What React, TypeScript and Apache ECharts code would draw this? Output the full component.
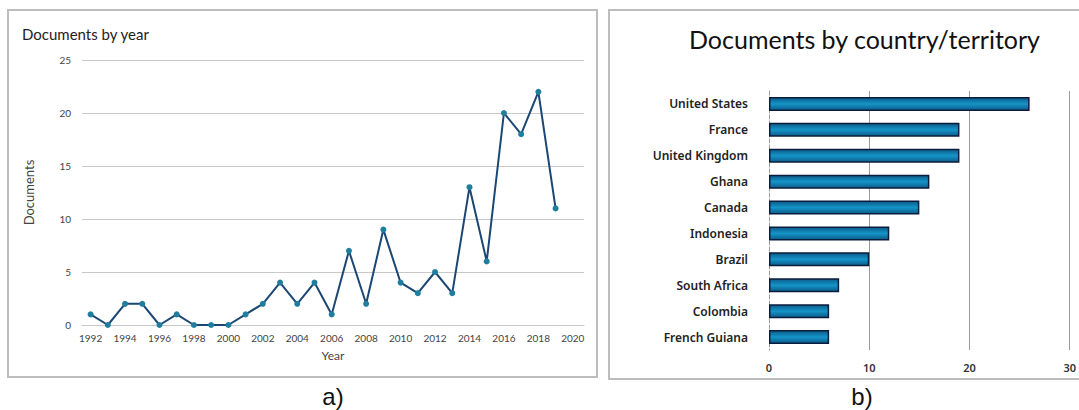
import React, { useEffect, useRef } from "react";
import * as echarts from "echarts";

const years = [1992, 1993, 1994, 1995, 1996, 1997, 1998, 1999, 2000, 2001, 2002, 2003, 2004, 2005, 2006, 2007, 2008, 2009, 2010, 2011, 2012, 2013, 2014, 2015, 2016, 2017, 2018, 2019];
const docsByYear = [1, 0, 2, 2, 0, 1, 0, 0, 0, 1, 2, 4, 2, 4, 1, 7, 2, 9, 4, 3, 5, 3, 13, 6, 20, 18, 22, 11];
const yearTicks = [1992, 1994, 1996, 1998, 2000, 2002, 2004, 2006, 2008, 2010, 2012, 2014, 2016, 2018, 2020];

const countries = ["United States", "France", "United Kingdom", "Ghana", "Canada", "Indonesia", "Brazil", "South Africa", "Colombia", "French Guiana"];
const countryDocs = [26, 19, 19, 16, 15, 12, 10, 7, 6, 6];

export default function App() {
  const ref = useRef<HTMLDivElement>(null);
  useEffect(() => {
    if (!ref.current) return;
    const chart = echarts.init(ref.current, null, { renderer: "svg" });
    const calib = "Lato, 'Open Sans', sans-serif";
    chart.setOption({
      animation: false,
      backgroundColor: "#ffffff",
      title: [
        {
          text: "Documents by year",
          left: 17,
          top: 21,
          textStyle: { fontFamily: calib, fontSize: 15, fontWeight: "normal", color: "#222" },
        },
        {
          text: "Documents by country/territory",
          left: 684,
          top: 21,
          textStyle: { fontFamily: calib, fontSize: 25, fontWeight: "normal", color: "#111" },
        },
      ],
      grid: [
        { left: 82, right: 495, top: 60, bottom: 85 },
        { left: 769, right: 9, top: 91, bottom: 60 },
      ],
      xAxis: [
        {
          type: "value",
          gridIndex: 0,
          min: 1991.5,
          max: 2020.65,
          splitLine: { show: false },
          axisLine: { show: true, lineStyle: { color: "#c8c8c8", width: 1 } },
          axisTick: { show: false },
          axisLabel: {
            customValues: yearTicks,
            formatter: (v: number) => String(v),
            fontFamily: calib,
            fontSize: 10,
            color: "#444",
            margin: 8,
          },
          name: "Year",
          nameLocation: "middle",
          nameGap: 24,
          nameTextStyle: { fontFamily: calib, fontSize: 12, color: "#444" },
        },
        {
          type: "value",
          gridIndex: 1,
          min: 0,
          max: 30,
          interval: 10,
          axisLine: { show: false },
          axisTick: { show: false },
          splitLine: { show: true, showMinLine: false, lineStyle: { color: "#9a9a9a", width: 1 } },
          axisLabel: {
            fontFamily: "'Noto Sans', sans-serif",
            fontSize: 11,
            fontWeight: 600,
            color: "#333",
            margin: 12,
          },
        },
      ],
      yAxis: [
        {
          type: "value",
          gridIndex: 0,
          min: 0,
          max: 25,
          interval: 5,
          axisLine: { show: false },
          axisTick: { show: false },
          splitLine: { show: true, lineStyle: { color: "#c8c8c8", width: 1 } },
          axisLabel: { fontFamily: calib, fontSize: 10, color: "#444", margin: 11 },
          name: "Documents",
          nameLocation: "middle",
          nameGap: 47,
          nameTextStyle: { fontFamily: calib, fontSize: 13, color: "#444" },
        },
        {
          type: "category",
          gridIndex: 1,
          data: countries,
          inverse: true,
          axisLine: { show: true, lineStyle: { color: "#9a9a9a", width: 1, type: "dashed" } },
          axisTick: { show: false },
          axisLabel: {
            fontFamily: "'Noto Sans', sans-serif",
            fontSize: 12,
            fontWeight: 600,
            color: "#222",
            margin: 21,
          },
        },
      ],
      series: [
        {
          type: "line",
          xAxisIndex: 0,
          yAxisIndex: 0,
          data: years.map((y, i) => [y, docsByYear[i]]),
          symbol: "circle",
          symbolSize: 6,
          lineStyle: { color: "#1b4775", width: 2 },
          itemStyle: { color: "#1f7d9e", borderColor: "#1f7d9e", borderWidth: 0 },
        },
        {
          type: "bar",
          xAxisIndex: 1,
          yAxisIndex: 1,
          data: countryDocs,
          barWidth: 14,
          itemStyle: {
            color: new echarts.graphic.LinearGradient(0, 0, 0, 1, [
              { offset: 0, color: "#0a5c8a" },
              { offset: 0.5, color: "#1594c8" },
              { offset: 1, color: "#0a5c8a" },
            ]),
            borderColor: "#0b1c3c",
            borderWidth: 1.5,
          },
        },
      ],
      graphic: [
        {
          type: "rect",
          shape: { x: 8, y: 10, width: 589, height: 367 },
          style: { fill: "none", stroke: "#bdbdbd", lineWidth: 2 },
        },
        {
          type: "rect",
          shape: { x: 609, y: 10, width: 480, height: 369 },
          style: { fill: "none", stroke: "#bdbdbd", lineWidth: 2 },
        },
        {
          type: "text",
          x: 333,
          y: 396,
          style: { text: "a)", fontFamily: "'Liberation Sans', Arial, sans-serif", fontSize: 24, fill: "#111", textAlign: "center", textVerticalAlign: "middle" },
        },
        {
          type: "text",
          x: 862,
          y: 396,
          style: { text: "b)", fontFamily: "'Liberation Sans', Arial, sans-serif", fontSize: 24, fill: "#111", textAlign: "center", textVerticalAlign: "middle" },
        },
      ],
    });
    return () => chart.dispose();
  }, []);
  return <div ref={ref} style={{ position: "fixed", left: 0, top: 0, width: 1079, height: 410 }} />;
}
